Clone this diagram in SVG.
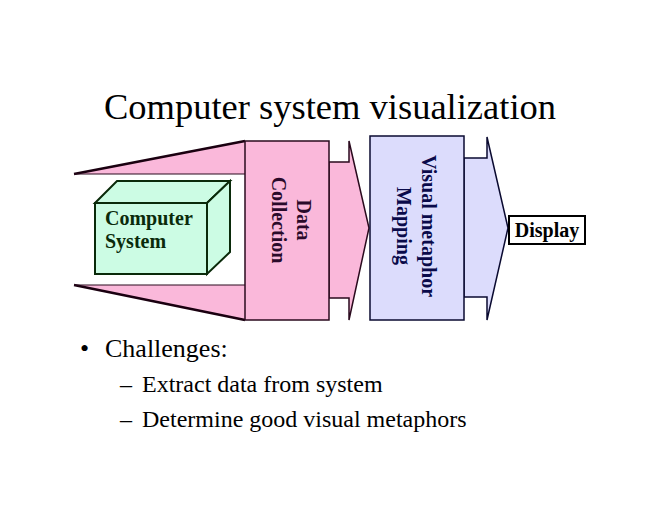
<svg xmlns="http://www.w3.org/2000/svg" width="660" height="510" viewBox="0 0 660 510">
<style>
.serif{font-family:"Liberation Serif","Times New Roman",serif}
.pink{fill:#fab8da;stroke:#2a0a1e;stroke-width:1.5;stroke-linejoin:miter}
.lav{fill:#dcdcfc;stroke:#0a0a30;stroke-width:1.5;stroke-linejoin:miter}
.lbl{font-family:"Liberation Serif","Times New Roman",serif;font-weight:bold;font-size:20px}
</style>
<rect width="660" height="510" fill="#ffffff"/>
<text class="serif" x="330" y="119" font-size="36.5" text-anchor="middle" fill="#000">Computer system visualization</text>

<g id="connectors">
  <g id="funnel">
    <polygon points="74,174 245,141 245,174" fill="#fab8da" stroke="none"/>
    <polygon points="74,285 245,285 245,320" fill="#fab8da" stroke="none"/>
    <line x1="74" y1="174" x2="245" y2="141" stroke="#1a0010" stroke-width="2.5"/>
    <line x1="74" y1="174" x2="245" y2="174" stroke="#2a0a1e" stroke-width="1.2"/>
    <line x1="74" y1="285" x2="245" y2="320" stroke="#1a0010" stroke-width="2.5"/>
    <line x1="74" y1="285" x2="245" y2="285" stroke="#2a0a1e" stroke-width="1.2"/>
  </g>
  <polygon id="arrow-dc" class="pink" points="329,162 349,162 349,141 369,228 349,320 349,298 329,298"/>
  <polygon id="arrow-vm" class="lav" points="464,158 487,158 487,137 508,228 487,320 487,297 464,297"/>
</g>

<g id="computer-system">
  <polygon points="95,203 117,181 230,181 207,203" fill="#ccfce4" stroke="#0a2a0a" stroke-width="2" stroke-linejoin="miter"/>
  <polygon points="207,203 230,181 230,252 207,274" fill="#ccfce4" stroke="#0a2a0a" stroke-width="2" stroke-linejoin="miter"/>
  <rect x="95" y="203" width="112" height="71" fill="#ccfce4" stroke="#0a2a0a" stroke-width="2"/>
  <text class="lbl" fill="#0a2a0a" font-size="19"><tspan x="105" y="225">Computer</tspan><tspan x="105" y="248">System</tspan></text>
</g>

<g id="data-collection">
  <rect class="pink" x="245" y="141" width="84" height="179"/>
  <g transform="translate(297,220) rotate(90)">
    <text class="lbl" fill="#2a0a2a" text-anchor="middle"><tspan x="0" y="0">Data</tspan><tspan x="0" y="25">Collection</tspan></text>
  </g>
</g>

<g id="visual-metaphor-mapping">
  <rect class="lav" x="370" y="136" width="94" height="184"/>
  <g transform="translate(422,226) rotate(90)">
    <text class="lbl" fill="#0a0a4a" text-anchor="middle"><tspan x="0" y="0">Visual metaphor</tspan><tspan x="0" y="25">Mapping</tspan></text>
  </g>
</g>

<g id="display">
  <rect x="509" y="216" width="76" height="28" fill="#ffffff" stroke="#000" stroke-width="2"/>
  <text class="lbl" x="547" y="237" font-size="19" text-anchor="middle" fill="#000">Display</text>
</g>

<g id="bullets" class="serif" fill="#000">
  <text x="80" y="357" font-size="26">•</text>
  <text x="105" y="357" font-size="26">Challenges:</text>
  <text x="120" y="392" font-size="24">–</text>
  <text x="142" y="392" font-size="24">Extract data from system</text>
  <text x="120" y="427" font-size="24">–</text>
  <text x="142" y="427" font-size="24">Determine good visual metaphors</text>
</g>
</svg>
